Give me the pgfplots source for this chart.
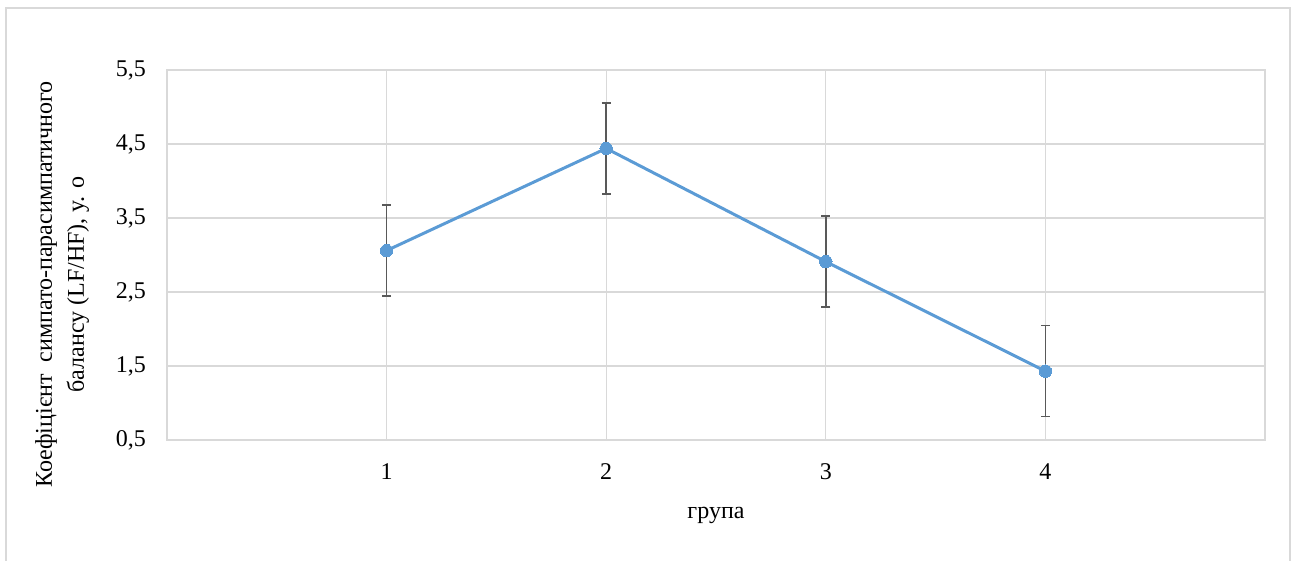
\documentclass[border=0pt]{standalone}
\usepackage{pgfplots}
\pgfplotsset{compat=1.18}
\usepackage{fontspec}
\setmainfont{Liberation Serif}
\definecolor{lineblue}{HTML}{5B9BD5}
\definecolor{gridgray}{HTML}{D9D9D9}
\definecolor{errgray}{HTML}{595959}
\begin{document}
\begin{tikzpicture}[font=\fontsize{12}{16}\selectfont]
\useasboundingbox (0,0) rectangle (648.5pt,280.5pt);
\begin{scope}
\clip (0,0) rectangle (648.5pt,280.5pt);
\draw[gridgray, line width=0.7pt] (3pt,-20pt) rectangle (645pt,276.5pt);
\end{scope}
\begin{axis}[
  at={(83.5pt,60.5pt)}, anchor=south west,
  scale only axis, width=549pt, height=185pt,
  xmin=0, xmax=5, ymin=0.5, ymax=5.5,
  xtick={1,2,3,4},
  ytick={0.5,1.5,2.5,3.5,4.5,5.5},
  xmajorgrids, ymajorgrids,
  grid style={gridgray, line width=0.65pt},
  axis line style={gridgray, line width=0.65pt},
  major tick length=0pt,
  tick style={draw=none},
  /pgf/number format/assume math mode=true,
  yticklabel style={/pgf/number format/fixed, /pgf/number format/fixed zerofill, /pgf/number format/precision=1, /pgf/number format/use comma, xshift=-7pt},
  xticklabel style={yshift=-8.5pt},
  xlabel={група},
  xlabel style={at={(axis description cs:0.5,0)}, anchor=base, yshift=-39.5pt},
  ylabel={Коефіцієнт\ \ симпато-парасимпатичного\\балансу (LF/HF), у. о},
  ylabel style={align=center, at={(axis description cs:-0.0956,0.42)}, anchor=center},
]
\addplot+[lineblue, line width=1.5pt, mark=*, mark size=3.1pt,
  mark options={fill=lineblue, draw=lineblue, line width=0pt},
  error bars/.cd, y dir=both, y explicit,
  error bar style={errgray, line width=0.75pt},
  error mark options={rotate=90, mark size=2.25pt, errgray, line width=0.75pt}]
  coordinates {
  (1,3.06) +- (0,0.615)
  (2,4.44) +- (0,0.615)
  (3,2.91) +- (0,0.615)
  (4,1.43) +- (0,0.615)
  };
\end{axis}
\end{tikzpicture}
\end{document}
